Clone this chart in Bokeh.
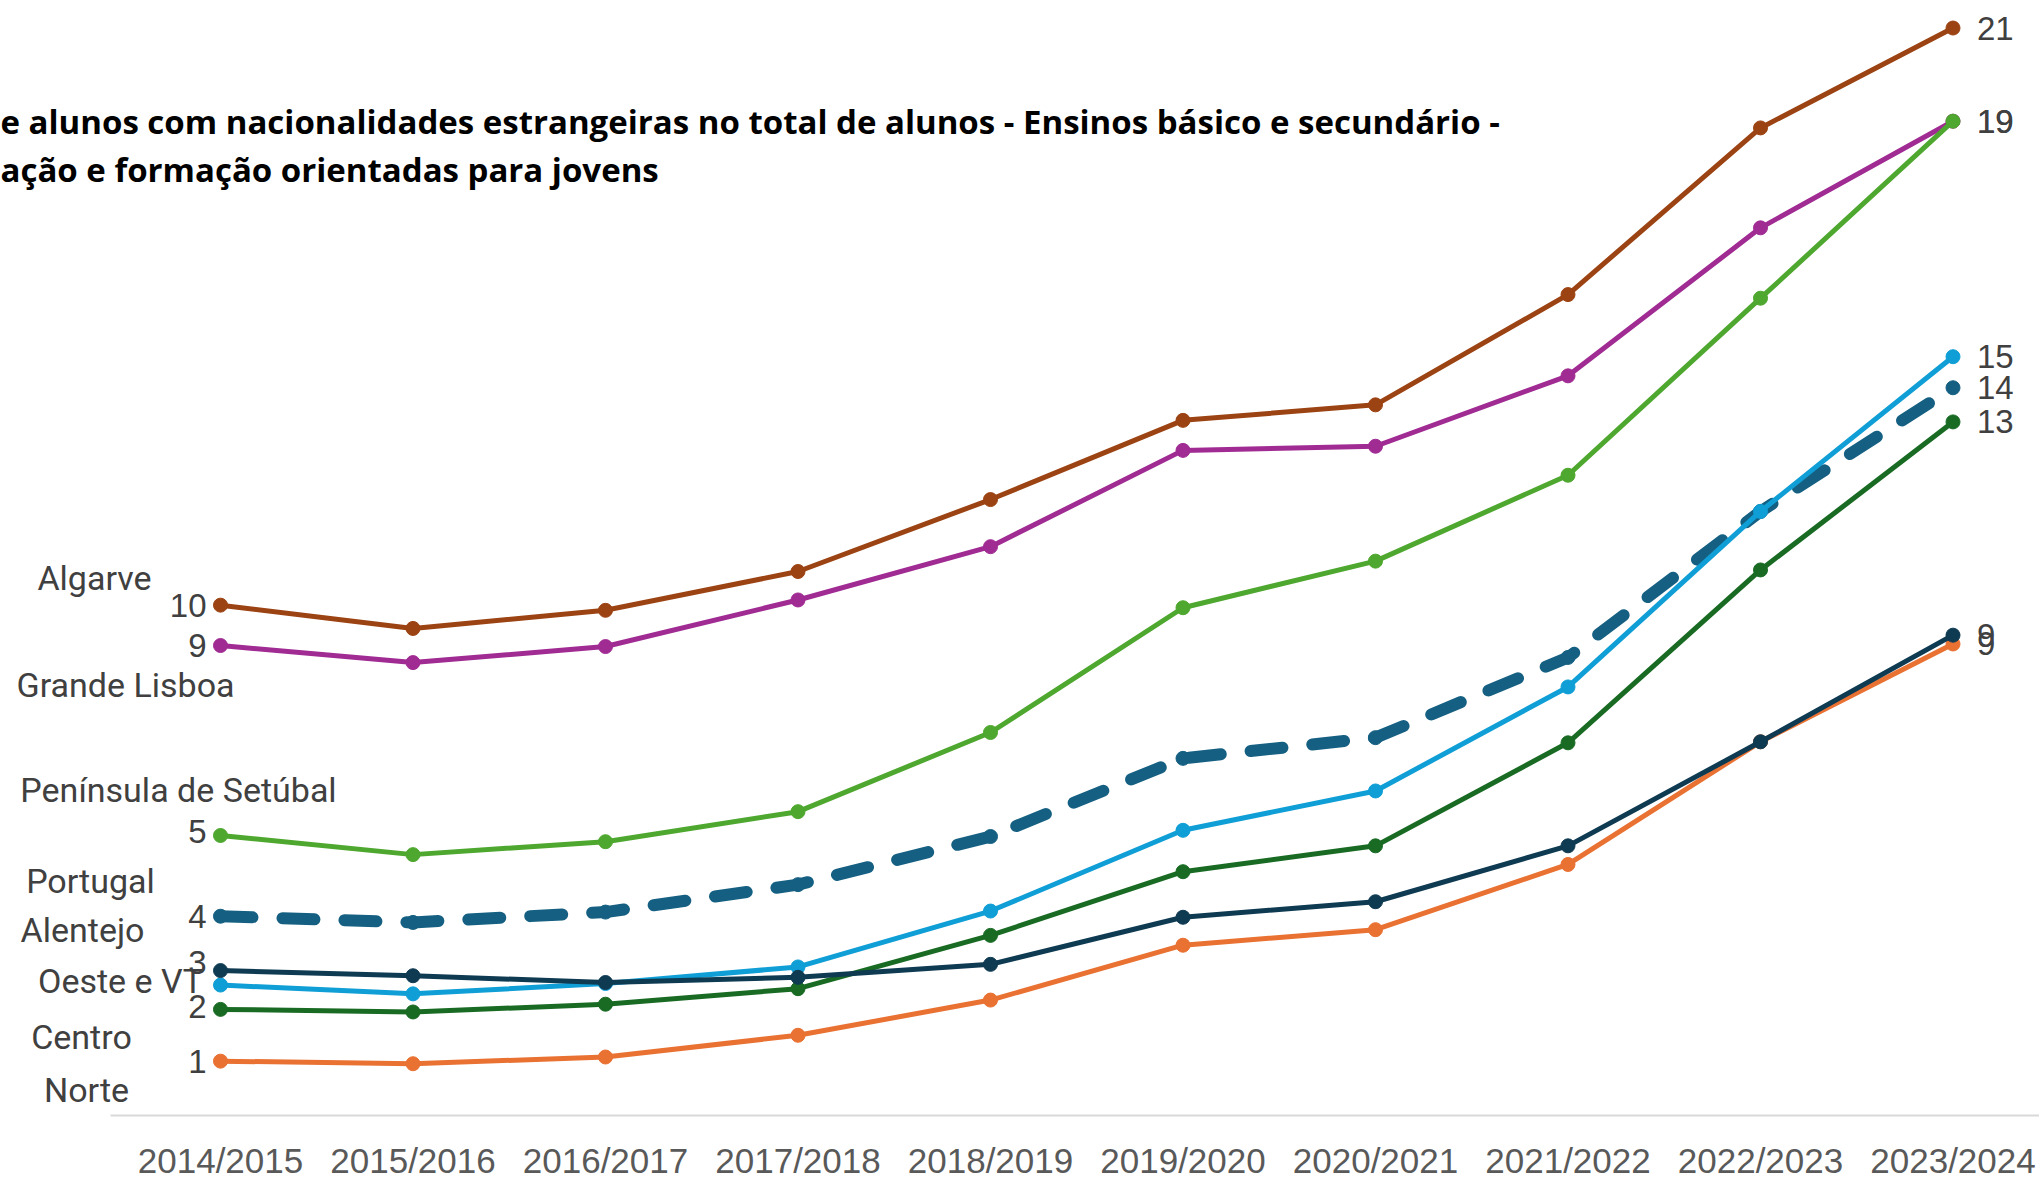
from bokeh.plotting import figure
from bokeh.models import Range1d, FixedTicker, ColumnDataSource, LabelSet, Label
from bokeh.core.properties import value
from bokeh.embed import file_html
from bokeh.resources import INLINE

# ---------------- data ----------------
years = ["2014/2015", "2015/2016", "2016/2017", "2017/2018", "2018/2019",
         "2019/2020", "2020/2021", "2021/2022", "2022/2023", "2023/2024"]

algarve = [9.86, 9.41, 9.76, 10.51, 11.90, 13.43, 13.73, 15.86, 19.08, 21.01]
grande_lisboa = [9.08, 8.75, 9.06, 9.96, 10.99, 12.85, 12.93, 14.29, 17.15, 19.21]
peninsula_setubal = [5.41, 5.04, 5.29, 5.87, 7.40, 9.81, 10.71, 12.37, 15.79, 19.21]
portugal = [3.85, 3.73, 3.93, 4.46, 5.39, 6.90, 7.30, 8.85, 11.67, 14.06]
alentejo = [2.80, 2.70, 2.57, 2.67, 2.92, 3.83, 4.13, 5.21, 7.22, 9.28]
oeste_vt = [2.52, 2.35, 2.55, 2.87, 3.95, 5.51, 6.27, 8.28, 11.67, 14.66]
centro = [2.05, 2.00, 2.15, 2.45, 3.48, 4.71, 5.21, 7.20, 10.54, 13.40]
norte = [1.05, 1.00, 1.13, 1.55, 2.23, 3.29, 3.59, 4.85, 7.22, 9.11]

title_lines = [
    "e alunos com nacionalidades estrangeiras no total de alunos - Ensinos básico e secundário -",
    "ação e formação orientadas para jovens",
]

# series: name, values, colour, dashed, show start value label
series = [
    ("Portugal", portugal, "#156082", True, True),
    ("Norte", norte, "#E97132", False, True),
    ("Centro", centro, "#196B24", False, True),
    ("Oeste e VT", oeste_vt, "#0F9ED5", False, False),
    ("Grande Lisboa", grande_lisboa, "#A02B93", False, True),
    ("Península de Setúbal", peninsula_setubal, "#4EA72E", False, True),
    ("Alentejo", alentejo, "#0E3A52", False, True),
    ("Algarve", algarve, "#9C4313", False, True),
]

# ---------------- layout (pixels of the 2039x1179 page) ----------------
X0_PX, STEP_PX = 220.0, 192.5      # first category centre, category step
Y0_PX, UNIT_PX = 1115.0, 51.76     # y of value 0, pixels per unit
W, H = 2039, 1179
AXIS_LEFT_PX = 110.0


def px_x(px):
    return (px - X0_PX) / STEP_PX


def px_y(py):
    return (Y0_PX - py) / UNIT_PX


p = figure(width=W, height=H, output_backend="svg", toolbar_location=None,
           x_range=Range1d(px_x(0), px_x(W)),
           y_range=Range1d(px_y(H), px_y(0)),
           min_border_left=0, min_border_right=0,
           min_border_top=0, min_border_bottom=0)
p.outline_line_color = None
p.grid.visible = False
p.yaxis.visible = False
p.background_fill_color = "white"
p.border_fill_color = "white"

xa = p.xaxis[0]
xa.fixed_location = 0
xa.ticker = FixedTicker(ticks=list(range(len(years))))
xa.major_label_overrides = {i: y for i, y in enumerate(years)}
xa.axis_line_color = None
xa.major_tick_line_color = None
xa.minor_tick_line_color = None
xa.major_label_text_font = "Liberation Sans"
xa.major_label_text_font_size = "35px"
xa.major_label_text_color = "#595959"
xa.major_label_standoff = 19

# category axis base line (plot-area width)
p.segment(x0=[px_x(AXIS_LEFT_PX)], y0=[0], x1=[px_x(W)], y1=[0],
          line_color="#D9D9D9", line_width=2)

xs = list(range(len(years)))
for name, vals, col, dashed, _ in series:
    if dashed:
        p.line(xs, vals, line_color=col, line_width=12, line_dash="32 30",
               line_cap="round", line_join="round")
        p.scatter(xs, vals, size=14, fill_color=col, line_color=col)
    else:
        p.line(xs, vals, line_color=col, line_width=5, line_join="round")
        p.scatter(xs, vals, size=14, fill_color=col, line_color=col)

# right-end value labels
end_src = ColumnDataSource(dict(
    x=[len(years) - 1] * len(series),
    y=[s[1][-1] for s in series],
    t=["%d" % int(s[1][-1] + 0.5) for s in series],
))
p.add_layout(LabelSet(x="x", y="y", text="t", source=end_src, x_offset=24,
                      text_align="left", text_baseline="middle",
                      text_font=value("Liberation Sans"), text_font_size="33px",
                      text_color="#404040"))

# left-start value labels (small vertical nudges, in pixels)
start_nudge = {"Alentejo": 8, "Península de Setúbal": 4, "Centro": 3}
st = [s for s in series if s[4]]
start_src = ColumnDataSource(dict(
    x=[0] * len(st),
    y=[s[1][0] for s in st],
    t=["%d" % int(s[1][0] + 0.5) for s in st],
    dy=[start_nudge.get(s[0], 0) for s in st],
))
p.add_layout(LabelSet(x="x", y="y", text="t", source=start_src, x_offset=-14,
                      y_offset="dy",
                      text_align="right", text_baseline="middle",
                      text_font=value("Liberation Sans"), text_font_size="33px",
                      text_color="#404040"))

# series name labels (centre positions in page pixels)
name_pos = {
    "Algarve": (94, 577),
    "Grande Lisboa": (125, 684),
    "Península de Setúbal": (178, 789),
    "Portugal": (90, 880),
    "Alentejo": (82, 929),
    "Oeste e VT": (120, 980),
    "Centro": (81, 1036),
    "Norte": (86, 1089),
}
names = [s[0] for s in series]
name_src = ColumnDataSource(dict(
    x=[px_x(name_pos[n][0]) for n in names],
    y=[px_y(name_pos[n][1]) for n in names],
    t=names,
))
p.add_layout(LabelSet(x="x", y="y", text="t", source=name_src,
                      text_align="center", text_baseline="middle",
                      text_font=value("Roboto"), text_font_size="34px",
                      text_color="#404040"))

# title
for line, py in zip(title_lines, [121, 169]):
    p.add_layout(Label(x=px_x(0), y=px_y(py), text=line, text_align="left",
                       text_baseline="middle", text_font="Open Sans",
                       text_font_style="bold", text_font_size="33px",
                       text_color="#000000"))

open("out.html", "w").write(file_html(p, INLINE))
